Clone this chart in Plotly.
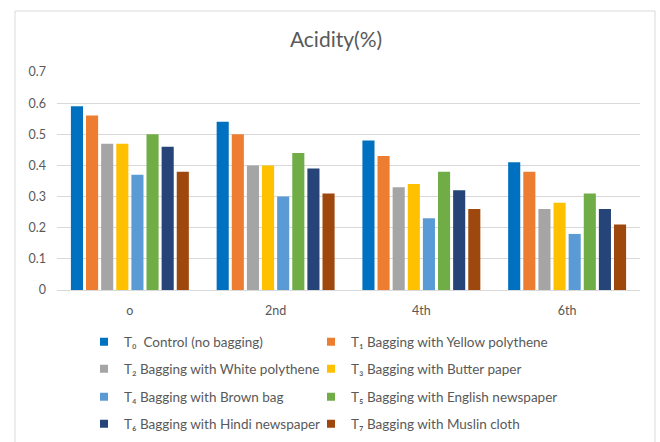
import plotly.graph_objects as go

# Storage intervals (days after harvest)
stages = ["o", "2nd", "4th", "6th"]

treatments = [
    "T₀  Control (no bagging)",
    "T₁ Bagging with Yellow polythene",
    "T₂ Bagging with White polythene",
    "T₃ Bagging with Butter paper",
    "T₄ Bagging with Brown bag",
    "T₅ Bagging with English newspaper",
    "T₆ Bagging with Hindi newspaper",
    "T₇ Bagging with Muslin cloth",
]

t0 = [0.59, 0.54, 0.48, 0.41]
t1 = [0.56, 0.50, 0.43, 0.38]
t2 = [0.47, 0.40, 0.33, 0.26]
t3 = [0.47, 0.40, 0.34, 0.28]
t4 = [0.37, 0.30, 0.23, 0.18]
t5 = [0.50, 0.44, 0.38, 0.31]
t6 = [0.46, 0.39, 0.32, 0.26]
t7 = [0.38, 0.31, 0.26, 0.21]

series = [t0, t1, t2, t3, t4, t5, t6, t7]
colors = ["#0070C0", "#ED7D31", "#A5A5A5", "#FFC000",
          "#5B9BD5", "#70AD47", "#264478", "#9E480E"]

W, H = 660, 442
ML, MR, MT, MB = 57, 20, 72, 152
PW = W - ML - MR
PH = H - MT - MB

def px_x(x):
    return (x - ML) / PW

def px_y(y):
    return (H - MB - y) / PH

FONT = "Lato, 'Open Sans', sans-serif"
GREY = "#595959"

# Legend laid out as a 2-column grid, one legend box per entry
col_x = [84, 311]
row_y = [342, 369, 397, 424]
legend_names = ["legend"] + [f"legend{k}" for k in range(2, 9)]

fig = go.Figure()
for i, (name, vals, col) in enumerate(zip(treatments, series, colors)):
    fig.add_trace(go.Bar(
        x=stages, y=vals, name=name, marker_color=col,
        marker_line_width=0, showlegend=False,
    ))
    # small square key for the legend
    fig.add_trace(go.Scatter(
        x=[None], y=[None], mode="markers", name=name,
        marker=dict(symbol="square", size=8, color=col),
        legend=legend_names[i], hoverinfo="skip",
    ))

legends = {}
for i, lname in enumerate(legend_names):
    legends[lname] = dict(
        orientation="h", xanchor="left", yanchor="middle",
        x=px_x(col_x[i % 2]), y=px_y(row_y[i // 2]),
        font=dict(family=FONT, size=13.5, color=GREY),
        bgcolor="rgba(0,0,0,0)", itemwidth=30,
    )

fig.update_layout(
    width=W, height=H,
    margin=dict(l=ML, r=MR, t=MT, b=MB, autoexpand=False),
    paper_bgcolor="white", plot_bgcolor="white",
    barmode="group", bargap=0.17, bargroupgap=0.2,
    font=dict(family=FONT, color=GREY, size=12),
    title=dict(text="Acidity(%)", xref="container", x=336 / W,
               xanchor="center", y=1 - 40 / H, yanchor="middle",
               font=dict(family=FONT, size=21, color=GREY)),
    showlegend=True,
    **legends,
)

fig.update_yaxes(
    range=[0, 0.7], dtick=0.1, tickformat="~g",
    showgrid=True, gridcolor="#D9D9D9", gridwidth=1,
    zeroline=False, showline=False, automargin=False,
    ticklabelstandoff=10,
    tickfont=dict(family=FONT, size=12.5, color=GREY),
)
fig.update_xaxes(
    showline=True, linecolor="#D9D9D9", linewidth=1, automargin=False,
    showgrid=False, ticks="", ticklabelstandoff=9,
    tickfont=dict(family=FONT, size=12.5, color=GREY),
)

# Chart frame
fig.add_shape(type="rect", xref="paper", yref="paper",
              x0=px_x(15), x1=px_x(655), y0=px_y(460), y1=px_y(11),
              line=dict(color="#D9D9D9", width=1), fillcolor="rgba(0,0,0,0)",
              layer="below")

fig.write_html("out.html")
